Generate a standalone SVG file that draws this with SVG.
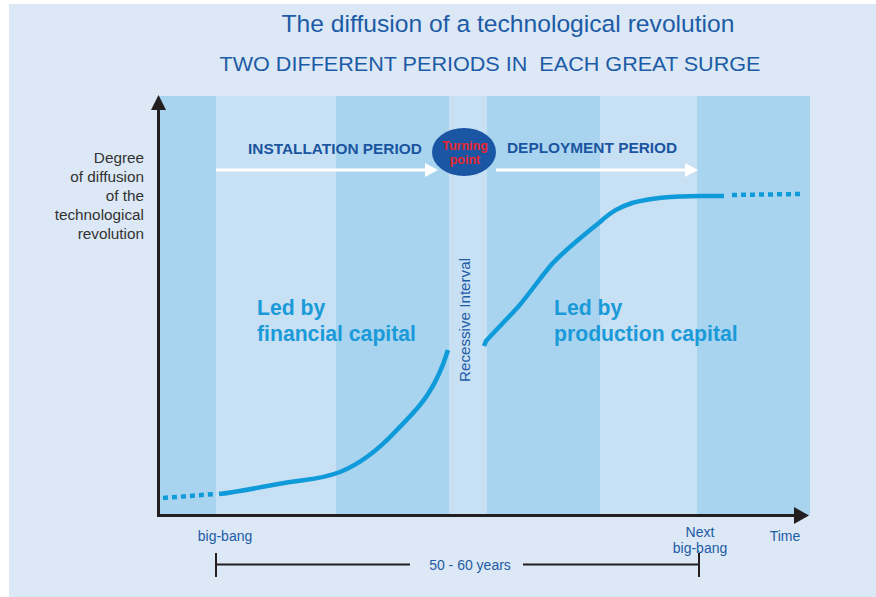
<svg xmlns="http://www.w3.org/2000/svg" width="876" height="597" viewBox="0 0 876 597">
<defs>
<style>
text{font-family:"Liberation Sans",Arial,sans-serif}
.dark{fill:#a9d4ef}
.light{fill:#c8e0f3}
.ttl{fill:#1c5ba6}
.ylab{fill:#333;font-size:15.3px;text-anchor:end}
.per{fill:#1a55a0;font-size:15.4px;font-weight:bold}
.led{fill:#1a9ad8;font-size:21.2px;font-weight:bold}
.small{fill:#1c5ba6;font-size:14px}
.curve{fill:none;stroke:#0f9ad9;stroke-width:4.5;stroke-linecap:butt;stroke-linejoin:round}
.dots{fill:none;stroke:#0f9ad9;stroke-width:4.5;stroke-dasharray:5 4}
.axis{stroke:#231f20;stroke-width:3;fill:none}
.warr{stroke:#fff;stroke-width:3;fill:none}
</style>
</defs>
<rect x="9" y="4" width="867" height="593" fill="#dce8f5"/>
<g id="bands">
<rect class="dark" x="158" y="96" width="58" height="419"/>
<rect class="light" x="216" y="96" width="120" height="419"/>
<rect class="dark" x="336" y="96" width="113" height="419"/>
<rect class="light" x="449" y="96" width="38" height="419"/>
<rect class="dark" x="487" y="96" width="113" height="419"/>
<rect class="light" x="600" y="96" width="97" height="419"/>
<rect class="dark" x="697" y="96" width="113" height="419"/>
</g>
<g id="title">
<text class="ttl" x="508" y="32" font-size="24.5" text-anchor="middle" textLength="453" lengthAdjust="spacingAndGlyphs">The diffusion of a technological revolution</text>
<text class="ttl" x="490" y="71" font-size="21" text-anchor="middle" xml:space="preserve" textLength="541" lengthAdjust="spacingAndGlyphs">TWO DIFFERENT PERIODS IN  EACH GREAT SURGE</text>
</g>
<g id="connectors">
<path class="warr" d="M216,170H427"/>
<path d="M425,163L438,170L425,177Z" fill="#fff"/>
<path class="warr" d="M496,170H688"/>
<path d="M685,163L698,170L685,177Z" fill="#fff"/>
<path class="dots" d="M163,498L215,494"/>
<path class="curve" d="M219,494C245,491 270,485 290,482C310,479 322,479 340,472C360,464 378,450 395,432C405,421 418,410 428,394C436,382 443,366 448,350"/>
<path class="curve" d="M484,346L486,341C496,330 508,318 518,307C530,293 540,278 552,264C565,250 580,238 600,222C612,211 620,207 632,203C650,198 675,196 700,196L724,196"/>
<path class="dots" d="M732,195L802,194"/>
</g>
<g id="axes">
<path class="axis" d="M158.5,106V515.5H796"/>
<path d="M151,110L158.5,95L166,110Z" fill="#231f20"/>
<path d="M794,507L809,515.5L794,524Z" fill="#231f20"/>
</g>
<g id="ylabel">
<text class="ylab" x="144" y="163">Degree</text>
<text class="ylab" x="144" y="182">of diffusion</text>
<text class="ylab" x="144" y="201">of the</text>
<text class="ylab" x="144" y="220">technological</text>
<text class="ylab" x="144" y="239">revolution</text>
</g>
<g id="installation">
<text class="per" x="248" y="154">INSTALLATION PERIOD</text>
</g>
<g id="deployment">
<text class="per" x="507" y="153">DEPLOYMENT PERIOD</text>
</g>
<g id="turning-point">
<ellipse cx="464" cy="152" rx="32" ry="24" fill="#1a56a3"/>
<text x="465" y="150" font-size="12.5" font-weight="bold" fill="#e8262f" text-anchor="middle">Turning</text>
<text x="465" y="164" font-size="12.5" font-weight="bold" fill="#e8262f" text-anchor="middle">point</text>
</g>
<g id="financial">
<text class="led" x="257" y="315">Led by</text>
<text class="led" x="257" y="341">financial capital</text>
</g>
<g id="production">
<text class="led" x="554" y="315">Led by</text>
<text class="led" x="554" y="341">production capital</text>
</g>
<g id="recessive">
<text class="small" font-size="15.5" transform="translate(470,320) rotate(-90)" text-anchor="middle" textLength="124" lengthAdjust="spacingAndGlyphs">Recessive Interval</text>
</g>
<g id="timeline">
<text class="small" x="225" y="541" text-anchor="middle">big-bang</text>
<text class="small" x="700" y="537" text-anchor="middle">Next</text>
<text class="small" x="700" y="553" text-anchor="middle">big-bang</text>
<text class="small" x="785" y="541" text-anchor="middle">Time</text>
<path d="M216,553V577M216,564.5H410M523,564.5H699M699,553V577" stroke="#231f20" stroke-width="2" fill="none"/>
<text class="small" x="470" y="570" text-anchor="middle">50 - 60 years</text>
</g>
</svg>
